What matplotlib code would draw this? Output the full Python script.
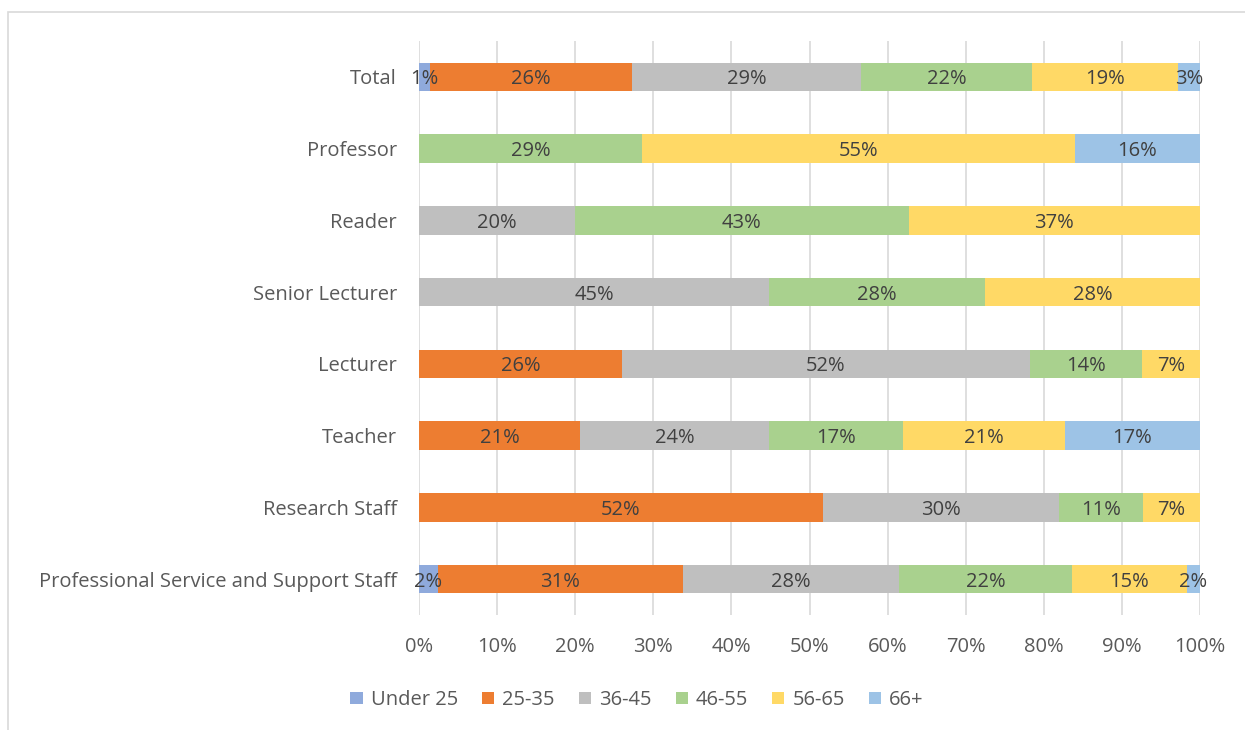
import matplotlib

matplotlib.use("Agg")
import matplotlib.pyplot as plt
from matplotlib.patches import Rectangle

categories = [
    "Total",
    "Professor",
    "Reader",
    "Senior Lecturer",
    "Lecturer",
    "Teacher",
    "Research Staff",
    "Professional Service and Support Staff",
]
age_groups = ["Under 25", "25-35", "36-45", "46-55", "56-65", "66+"]

# share of each age group per category, in percent (top to bottom)
under_25 = [1.4, 0, 0, 0, 0, 0, 0, 2.4]
age_25_35 = [25.9, 0, 0, 0, 26.0, 20.6, 51.7, 31.4]
age_36_45 = [29.3, 0, 20.0, 44.8, 52.2, 24.2, 30.2, 27.7]
age_46_55 = [21.9, 28.6, 42.7, 27.7, 14.4, 17.2, 10.8, 22.1]
age_56_65 = [18.7, 55.4, 37.3, 27.5, 7.4, 20.7, 7.3, 14.7]
age_66_plus = [2.8, 16.0, 0, 0, 0, 17.3, 0, 1.7]

series = [under_25, age_25_35, age_36_45, age_46_55, age_56_65, age_66_plus]
colors = ["#8FAADC", "#ED7D31", "#BFBFBF", "#A9D18E", "#FFD966", "#9DC3E6"]

plt.rcParams["font.family"] = ["Open Sans", "DejaVu Sans"]
FS = 14.5

fig = plt.figure(figsize=(12.45, 7.3), dpi=100)
ax = fig.add_axes([419 / 1245, 1 - 615 / 730, 781 / 1245, 574 / 730])

ypos = list(range(len(categories)))
left = [0.0] * len(categories)
for name, values, color in zip(age_groups, series, colors):
    bars = ax.barh(ypos, values, left=left, height=0.4, color=color, label=name, zorder=2)
    for bar, v in zip(bars, values):
        if v > 0:
            ax.text(
                bar.get_x() + bar.get_width() / 2,
                bar.get_y() + bar.get_height() / 2,
                f"{round(v):.0f}%",
                ha="center",
                va="center_baseline",
                fontsize=FS,
                color="#404040",
                zorder=3,
            )
    left = [a + b for a, b in zip(left, values)]

ax.set_xlim(0, 100)
ax.set_ylim(len(categories) - 0.5, -0.5)
ax.set_yticks(ypos)
ax.set_yticklabels(categories, fontsize=FS, color="#595959")
ax.set_xticks(range(0, 101, 10))
ax.set_xticklabels([f"{t}%" for t in range(0, 101, 10)], fontsize=FS, color="#595959")
ax.tick_params(axis="x", length=0, pad=16)
ax.tick_params(axis="y", length=0, pad=16)
ax.grid(axis="x", color="#D9D9D9", linewidth=1.2, zorder=0)
for side in ["top", "right", "bottom", "left"]:
    ax.spines[side].set_visible(False)

fig.legend(
    loc="center",
    bbox_to_anchor=(637 / 1245, 1 - 700 / 730),
    ncol=6,
    frameon=False,
    fontsize=FS,
    handlelength=0.6,
    handleheight=0.6,
    handletextpad=0.4,
    columnspacing=1.2,
    labelcolor="#595959",
)

fig.patches.append(
    Rectangle(
        (8 / 1245, -0.01),
        1.1,
        1 - 12 / 730 + 0.01,
        transform=fig.transFigure,
        fill=False,
        edgecolor="#D9D9D9",
        linewidth=1.2,
    )
)

fig.savefig("out.png", dpi=100)
